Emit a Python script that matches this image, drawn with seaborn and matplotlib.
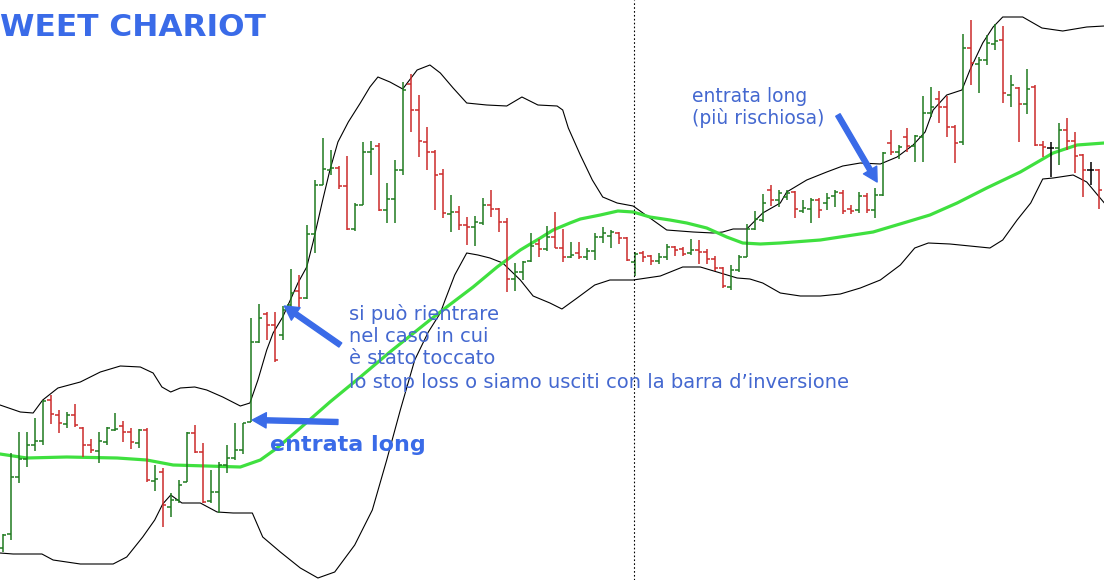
import numpy as np
import pandas as pd
import seaborn as sns
from matplotlib import pyplot as plt

# prezzi (barre OHLC)
open_ = [32, 46, 103, 121, 135, 139, 180, 165, 156, 165, 152, 135, 129, 138, 150, 154, 148, 137, 150, 99,
         108, 73, 80, 98, 147, 128, 79, 88, 115, 122, 130, 158, 238, 266, 255, 245, 275, 289, 282, 346,
         395, 410, 412, 394, 351, 375, 428, 434, 370, 381, 410, 496, 470, 438, 428, 406, 366, 368, 355, 353,
         357, 375, 371, 358, 301, 308, 319, 336, 331, 343, 332, 323, 327, 323, 329, 343, 344, 347, 342, 318,
         327, 324, 319, 323, 333, 331, 327, 330, 328, 321, 312, 293, 310, 323, 351, 360, 390, 380, 383, 388,
         369, 371, 380, 377, 384, 387, 371, 370, 384, 370, 385, 437, 428, 443, 434, 443, 467, 481, 473, 453,
         438, 532, 516, 520, 536, 540, 485, 492, 476, 493, 435, 432, 432, 450, 439, 425, 410, 410]
high = [46, 127, 148, 148, 162, 180, 185, 170, 168, 176, 153, 141, 148, 153, 167, 159, 152, 151, 152, 115,
        112, 87, 100, 148, 155, 137, 110, 118, 135, 157, 157, 262, 276, 268, 268, 274, 311, 305, 355, 400,
        442, 430, 414, 424, 377, 438, 439, 437, 397, 420, 498, 506, 485, 453, 430, 411, 385, 374, 363, 364,
        382, 390, 372, 362, 317, 319, 347, 341, 354, 368, 351, 338, 338, 332, 347, 353, 350, 348, 343, 328,
        329, 325, 327, 336, 334, 333, 341, 340, 331, 324, 313, 315, 325, 356, 369, 386, 395, 390, 390, 389,
        380, 382, 382, 387, 390, 390, 375, 388, 387, 392, 428, 450, 435, 452, 445, 484, 493, 489, 484, 455,
        546, 560, 523, 545, 556, 554, 505, 493, 511, 495, 439, 438, 457, 462, 448, 426, 418, 411]
low = [28, 40, 97, 113, 129, 135, 156, 147, 152, 153, 123, 127, 117, 135, 149, 138, 131, 132, 98, 89,
       53, 63, 77, 98, 127, 77, 77, 67, 107, 120, 126, 158, 237, 240, 218, 240, 272, 271, 281, 327,
       395, 405, 391, 350, 349, 375, 405, 369, 357, 357, 405, 448, 423, 410, 370, 362, 348, 350, 335, 334,
       355, 363, 348, 288, 289, 300, 318, 323, 329, 332, 318, 322, 321, 320, 320, 337, 332, 336, 319, 304,
       318, 315, 316, 320, 324, 324, 325, 316, 316, 309, 292, 290, 308, 323, 350, 358, 374, 373, 380, 362,
       367, 357, 362, 370, 373, 366, 366, 367, 367, 362, 384, 425, 421, 428, 418, 418, 463, 457, 443, 417,
       435, 495, 487, 515, 530, 477, 473, 438, 466, 434, 423, 403, 415, 430, 407, 383, 395, 371]
close = [45, 103, 121, 135, 139, 179, 166, 157, 165, 155, 135, 130, 139, 152, 151, 148, 138, 150, 100, 101,
         75, 80, 95, 147, 128, 78, 88, 115, 122, 130, 157, 238, 262, 255, 220, 270, 287, 282, 346, 395,
         411, 412, 394, 351, 375, 428, 431, 370, 381, 410, 490, 470, 439, 428, 405, 367, 368, 355, 353, 358,
         375, 371, 358, 301, 308, 318, 334, 331, 343, 332, 323, 325, 323, 329, 343, 347, 348, 342, 320, 326,
         323, 319, 323, 333, 330, 326, 330, 328, 321, 312, 294, 310, 323, 351, 361, 377, 380, 387, 387, 371,
         372, 380, 370, 382, 388, 369, 369, 384, 370, 385, 427, 428, 433, 434, 444, 467, 473, 473, 453, 437,
         532, 517, 520, 537, 539, 487, 495, 476, 491, 435, 433, 432, 450, 439, 424, 410, 410, 390]

# bande di Bollinger e media mobile
upper_x = [-0.34, 2.2, 3.8, 5.0, 6.9, 9.7, 12.2, 14.7, 17.2, 18.8, 19.9, 21.0, 22.2, 24.0, 25.5, 27.5, 29.7,
           30.9, 31.9, 33.0, 33.8, 35.0, 36.9, 38.0, 38.8, 40.0, 40.9, 41.9, 43.2, 44.7, 45.9, 46.9, 48.4,
           50.0, 51.8, 53.4, 54.7, 56.3, 58.0, 60.5, 63.0, 64.9, 66.9, 69.3, 70.0, 70.7, 72.2, 73.7, 75.0,
           76.8, 78.8, 80.9, 83.0, 86.3, 88.8, 90.0, 91.3, 93.0, 95.0, 97.2, 98.0, 100.5, 103.0, 105.0,
           107.2, 109.7, 111.8, 113.8, 115.3, 116.3, 118.0, 119.9, 120.9, 122.5, 123.8, 125.0, 127.5,
           129.9, 132.5, 135.5, 137.7]
upper_y = [175, 168, 167, 180, 192, 198, 208, 214, 213, 207, 193, 188, 192, 193, 190, 183, 174,
           177, 200, 230, 247, 263, 297, 313, 338, 380, 410, 438, 458, 477, 493, 503, 498,
           491, 510, 515, 507, 492, 477, 475, 474, 483, 475, 474, 470, 452, 425, 400, 383,
           377, 374, 362, 350, 348, 347, 348, 351, 351, 367, 377, 388, 400, 408, 414,
           417, 416, 423, 435, 448, 470, 485, 490, 510, 537, 553, 563, 563,
           552, 549, 553, 554]
mid_x = [-0.34, 3.0, 8.0, 14.3, 18.0, 21.3, 25.5, 29.7, 32.2, 34.3, 37.2, 40.9, 44.7, 48.4, 53.4, 55.5,
         58.8, 61.8, 64.7, 67.2, 68.8, 70.9, 72.2, 74.7, 76.9, 78.8, 80.9, 83.4, 85.5, 88.0, 90.5, 92.5,
         94.7, 97.2, 102.2, 108.8, 113.0, 115.9, 119.3, 123.0, 127.2, 131.3, 134.3, 137.7]
mid_y = [126, 122, 123, 122, 120, 115, 114, 113, 120, 132, 152, 178, 203, 228, 260, 273,
         293, 313, 330, 342, 350, 357, 361, 365, 369, 368, 363, 360, 357, 352, 343, 337,
         336, 337, 340, 348, 358, 365, 377, 392, 408, 427, 435, 437]
lower_x = [-0.34, 1.3, 4.9, 6.3, 9.7, 13.8, 15.5, 17.5, 19.0, 20.0, 21.0, 22.4, 24.7, 26.8, 28.8, 31.2,
           32.5, 34.7, 37.2, 39.4, 41.5, 44.0, 46.2, 48.0, 49.7, 51.5, 53.2, 54.7, 55.3, 56.5, 58.0,
           59.4, 60.9, 62.5, 64.7, 66.3, 68.4, 69.9, 71.8, 74.0, 75.9, 78.8, 82.2, 85.0, 87.2, 89.3,
           91.8, 93.4, 95.0, 97.2, 99.7, 102.2, 104.7, 107.2, 109.7, 112.2, 114.0, 115.7, 118.4, 120.9,
           123.4, 125.0, 126.8, 128.5, 130.0, 131.3, 133.8, 135.5, 137.7]
lower_y = [27, 26, 26, 20, 16, 16, 23, 43, 60, 76, 85, 77, 77, 68, 67, 67,
           43, 28, 12, 2, 8, 35, 70, 120, 170, 220, 248, 267, 280, 305, 327,
           325, 322, 317, 300, 284, 277, 271, 282, 295, 300, 300, 304, 313, 313, 308,
           302, 301, 297, 287, 284, 284, 286, 292, 300, 315, 332, 337, 336, 334,
           332, 340, 360, 377, 401, 402, 405, 398, 377]

bars = pd.DataFrame({'open': open_, 'high': high, 'low': low, 'close': close})
bars['x'] = np.arange(len(bars))

GREEN = '#1f7a1f'
RED = '#cc2b2b'
BLUE = '#3a6be8'
TXT = '#4468d0'


def bar_color(r):
    if r['close'] > r['open']:
        return GREEN
    if r['close'] < r['open']:
        return RED
    return 'black'


bars['color'] = bars.apply(bar_color, axis=1)

sns.set_theme(style='white')
plt.rcParams['font.family'] = ['DejaVu Sans']

fig = plt.figure(figsize=(11.04, 5.8), dpi=100)
ax = fig.add_axes([0, 0, 1, 1])
ax.axis('off')

# bande
sns.lineplot(x=upper_x, y=upper_y, ax=ax, color='black', linewidth=0.8, estimator=None)
sns.lineplot(x=lower_x, y=lower_y, ax=ax, color='black', linewidth=0.8, estimator=None)
sns.lineplot(x=mid_x, y=mid_y, ax=ax, color='#3fe03f', linewidth=2.3, estimator=None)

# barre OHLC
ax.vlines(bars['x'], bars['low'], bars['high'], colors=bars['color'], linewidth=1.1)
ax.hlines(bars['open'], bars['x'] - 0.42, bars['x'], colors=bars['color'], linewidth=1.1)
ax.hlines(bars['close'], bars['x'], bars['x'] + 0.42, colors=bars['color'], linewidth=1.1)

# linea verticale tratteggiata
ax.axvline(78.9, color='black', linestyle=(0, (1.5, 2)), linewidth=0.8)

ax.set_xlim(-0.34, 137.66)
ax.set_ylim(0, 580)

arrow = dict(arrowstyle='simple,head_length=1.0,head_width=1.1,tail_width=0.36',
             mutation_scale=10, color=BLUE, shrinkA=0, shrinkB=0)
ax.annotate('', xy=(35.2, 274), xytext=(42.2, 235), arrowprops=arrow)
ax.annotate('', xy=(31.2, 160), xytext=(41.9, 158), arrowprops=arrow)
ax.annotate('', xy=(109.3, 398), xytext=(104.4, 465), arrowprops=arrow)

W, H = 1104, 580
fig.text(0 / W, 1 - 36 / H, 'WEET CHARIOT', color=BLUE, fontsize=22.5, fontweight='bold', va='baseline')
fig.text(270 / W, 1 - 451 / H, 'entrata long', color=BLUE, fontsize=16, fontweight='bold', va='baseline')

lines = ['si può rientrare', 'nel caso in cui', 'è stato toccato',
         'lo stop loss o siamo usciti con la barra d\u2019inversione']
for txt, yb in zip(lines, [320, 342, 364, 388]):
    fig.text(349 / W, 1 - yb / H, txt, color=TXT, fontsize=14, va='baseline')

fig.text(692 / W, 1 - 102 / H, 'entrata long', color=TXT, fontsize=13.5, va='baseline')
fig.text(692 / W, 1 - 124 / H, '(più rischiosa)', color=TXT, fontsize=13.5, va='baseline')

fig.savefig('out.png', dpi=100)
